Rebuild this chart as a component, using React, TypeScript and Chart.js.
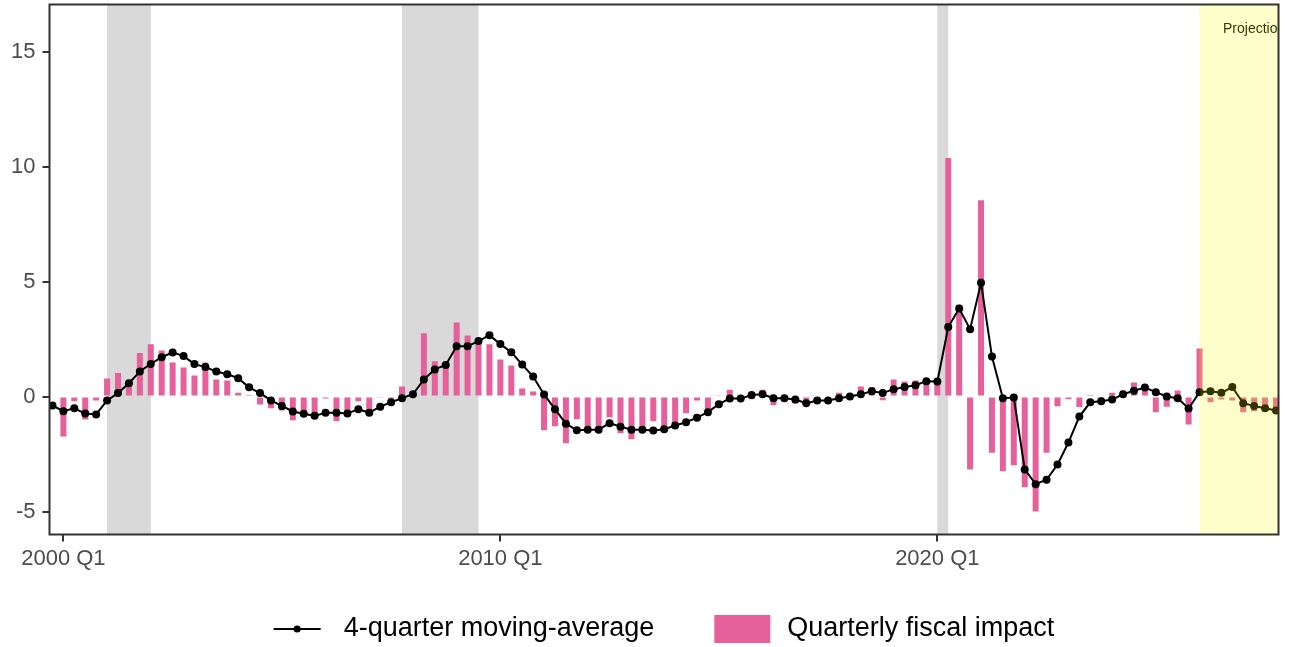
import React, { useEffect, useRef } from 'react';
import { Chart, registerables } from 'chart.js';

Chart.register(...registerables);

// ---------- DATA ----------
const firstYear = 1999;
const firstQuarterNum = 4;

// Quarterly fiscal impact (bars), 1999 Q4 .. 2027 Q4
const fiscalImpact: number[] = [
  0.04, -1.74, -0.20, -1.00, -0.17, 0.78, 1.02, 0.68, 1.89, 2.27,
  2.00, 1.48, 1.26, 0.92, 1.48, 0.74, 0.70, 0.17, 0.02, -0.35,
  -0.51, -0.61, -1.03, -0.80, -0.83, -0.09, -1.07, -0.75, -0.20, -0.61,
  -0.05, -0.10, 0.44, 0.11, 2.75, 1.53, 1.39, 3.22, 2.66, 2.37,
  2.27, 1.61, 1.35, 0.35, 0.22, -1.47, -1.29, -2.03, -0.99, -1.41,
  -1.42, -0.90, -1.60, -1.86, -1.41, -1.07, -1.41, -1.30, -0.73, -0.17,
  -0.61, 0.03, 0.30, 0.05, -0.12, 0.30, -0.38, 0.00, -0.30, -0.34,
  0.00, -0.04, 0.17, -0.13, 0.44, 0.42, -0.16, 0.74, 0.65, 0.70,
  0.70, 0.62, 10.37, 3.99, -3.17, 8.54, -2.44, -3.25, -2.99, -3.95,
  -5.00, -2.44, -0.42, -0.12, -0.46, 0.02, -0.10, 0.16, 0.25, 0.61,
  0.50, -0.68, -0.44, 0.26, -1.22, 2.09, -0.25, -0.13, -0.17, -0.68,
  -0.64, -0.51, -0.61,
];

// 4-quarter moving average (line)
const movingAverage: number[] = [
  -0.39, -0.64, -0.51, -0.74, -0.78, -0.17, 0.15, 0.58, 1.09, 1.42,
  1.71, 1.92, 1.76, 1.41, 1.28, 1.09, 0.97, 0.80, 0.40, 0.15,
  -0.17, -0.41, -0.65, -0.75, -0.84, -0.70, -0.70, -0.74, -0.55, -0.70,
  -0.44, -0.25, -0.07, 0.10, 0.74, 1.18, 1.37, 2.19, 2.19, 2.41,
  2.67, 2.28, 1.93, 1.39, 0.87, 0.09, -0.55, -1.18, -1.47, -1.44,
  -1.44, -1.16, -1.31, -1.44, -1.44, -1.48, -1.42, -1.26, -1.12, -0.92,
  -0.68, -0.33, -0.09, -0.09, 0.07, 0.10, -0.07, -0.07, -0.13, -0.29,
  -0.17, -0.17, -0.07, 0.00, 0.10, 0.23, 0.15, 0.32, 0.41, 0.49,
  0.67, 0.65, 3.02, 3.83, 2.93, 4.95, 1.74, -0.07, -0.04, -3.17,
  -3.81, -3.62, -2.96, -2.00, -0.87, -0.25, -0.20, -0.13, 0.10, 0.25,
  0.39, 0.19, 0.00, -0.07, -0.52, 0.19, 0.23, 0.16, 0.41, -0.29,
  -0.41, -0.51, -0.61,
];

const quarterLabels: string[] = fiscalImpact.map((_, i) => {
  const q0 = firstQuarterNum - 1 + i;
  return `${firstYear + Math.floor(q0 / 4)} Q${(q0 % 4) + 1}`;
});

const xTickLabels: string[] = ['2000 Q1', '2010 Q1', '2020 Q1'];
const yTickValues: number[] = [-5, 0, 5, 10, 15];
const recessionStarts: string[] = ['2001 Q1', '2007 Q4', '2020 Q1'];
const recessionEnds: string[] = ['2002 Q1', '2009 Q3', '2020 Q2'];
const projectionStart = '2026 Q1';
const projectionText = 'Projection';
const projectionTextQuarter = '2027 Q2';
const projectionTextValue = 16;
const seriesNames: string[] = ['4-quarter moving-average', 'Quarterly fiscal impact'];

// ---------- STYLE ----------
const FONT = '"Liberation Sans", Arial, Helvetica, sans-serif';
const BAR_COLOR = '#E6609B';
const AXIS_TEXT = '#4D4D4D';
const FRAME = '#333333';

const idx = (q: string) => quarterLabels.indexOf(q);

const decorations = {
  id: 'decorations',
  beforeDatasetsDraw(chart: any) {
    const { ctx, chartArea: a, scales } = chart;
    const x = scales.x;
    ctx.save();
    ctx.beginPath();
    ctx.rect(a.left, a.top, a.right - a.left, a.bottom - a.top);
    ctx.clip();
    ctx.fillStyle = '#D9D9D9';
    recessionStarts.forEach((s, k) => {
      const x0 = x.getPixelForValue(idx(s));
      const x1 = x.getPixelForValue(idx(recessionEnds[k]));
      ctx.fillRect(x0, a.top, x1 - x0, a.bottom - a.top);
    });
    ctx.restore();
  },
  afterDatasetsDraw(chart: any) {
    const { ctx, chartArea: a, scales } = chart;
    const x = scales.x;
    const y = scales.y;
    ctx.save();
    ctx.beginPath();
    ctx.rect(a.left, a.top, a.right - a.left, a.bottom - a.top);
    ctx.clip();
    ctx.font = `14px ${FONT}`;
    ctx.fillStyle = '#000000';
    ctx.textAlign = 'center';
    ctx.textBaseline = 'middle';
    ctx.fillText(
      projectionText,
      x.getPixelForValue(idx(projectionTextQuarter)),
      y.getPixelForValue(projectionTextValue)
    );
    const px = x.getPixelForValue(idx(projectionStart));
    ctx.fillStyle = 'rgba(255,255,0,0.2)';
    ctx.fillRect(px, a.top, a.right - px, a.bottom - a.top);
    ctx.restore();
  },
  afterDraw(chart: any) {
    const { ctx, chartArea: a } = chart;
    ctx.save();
    // panel frame
    ctx.strokeStyle = FRAME;
    ctx.lineWidth = 2;
    ctx.strokeRect(a.left, a.top, a.right - a.left, a.bottom - a.top);

    // legend
    ctx.font = `27px ${FONT}`;
    ctx.textBaseline = 'middle';
    ctx.textAlign = 'left';
    const w1 = ctx.measureText(seriesNames[0]).width;
    const w2 = ctx.measureText(seriesNames[1]).width;
    const lineKey = 47;
    const gap1 = 23;
    const between = 60;
    const rectW = 56;
    const rectH = 28;
    const gap2 = 17;
    const total = lineKey + gap1 + w1 + between + rectW + gap2 + w2;
    const cx = (a.left + a.right) / 2;
    const ly = 629;
    let xx = cx - total / 2;
    ctx.strokeStyle = '#000000';
    ctx.lineWidth = 2;
    ctx.beginPath();
    ctx.moveTo(xx, ly);
    ctx.lineTo(xx + lineKey, ly);
    ctx.stroke();
    ctx.fillStyle = '#000000';
    ctx.beginPath();
    ctx.arc(xx + lineKey / 2, ly, 3.6, 0, Math.PI * 2);
    ctx.fill();
    xx += lineKey + gap1;
    ctx.fillStyle = '#000000';
    ctx.fillText(seriesNames[0], xx, ly);
    xx += w1 + between;
    ctx.fillStyle = BAR_COLOR;
    ctx.fillRect(xx, ly - rectH / 2, rectW, rectH);
    xx += rectW + gap2;
    ctx.fillStyle = '#000000';
    ctx.fillText(seriesNames[1], xx, ly);
    ctx.restore();
  },
};

export default function App() {
  const canvasRef = useRef<HTMLCanvasElement | null>(null);

  useEffect(() => {
    const canvas = canvasRef.current;
    if (!canvas) return;
    Chart.defaults.font.family = FONT;

    const chart = new Chart(canvas, {
      type: 'bar',
      data: {
        datasets: [
          {
            type: 'line',
            label: seriesNames[0],
            data: movingAverage.map((v, i) => ({ x: i, y: v })),
            borderColor: '#000000',
            borderWidth: 2,
            pointRadius: 4,
            pointBackgroundColor: '#000000',
            pointBorderColor: '#000000',
            pointBorderWidth: 0,
            tension: 0,
            order: 1,
            clip: 0,
          } as any,
          {
            type: 'bar',
            label: seriesNames[1],
            data: fiscalImpact.map((v, i) => ({ x: i, y: v })),
            backgroundColor: BAR_COLOR,
            borderWidth: 0,
            barPercentage: 0.55,
            categoryPercentage: 1,
            order: 2,
            clip: 0,
          } as any,
        ],
      },
      options: {
        responsive: false,
        animation: false,
        events: [],
        layout: {
          padding: { left: 0, top: 4.5, right: 1290 - 1278.5, bottom: 647 - 534.5 - 40 },
        },
        plugins: {
          legend: { display: false },
          tooltip: { enabled: false },
          title: { display: false },
        },
        scales: {
          x: {
            type: 'linear',
            min: -0.27,
            max: 112.23,
            offset: false,
            afterFit: (s: any) => {
              s.height = 40;
              s.paddingLeft = 0;
              s.paddingRight = 0;
            },
            afterBuildTicks: (s: any) => {
              s.ticks = xTickLabels.map((l) => ({ value: idx(l) }));
            },
            ticks: {
              autoSkip: false,
              maxRotation: 0,
              padding: 4,
              color: AXIS_TEXT,
              font: { size: 22, family: FONT },
              callback: (v: any) => quarterLabels[Math.round(Number(v))],
            },
            grid: {
              offset: false,
              drawOnChartArea: false,
              drawTicks: true,
              tickLength: 7,
              color: FRAME,
              lineWidth: 2,
            },
            border: { display: false },
          },
          y: {
            type: 'linear',
            min: -6,
            max: 17.05,
            afterFit: (s: any) => {
              s.width = 49.5;
              s.paddingTop = 0;
              s.paddingBottom = 0;
            },
            afterBuildTicks: (s: any) => {
              s.ticks = yTickValues.map((v) => ({ value: v }));
            },
            ticks: {
              padding: 7,
              color: AXIS_TEXT,
              font: { size: 22, family: FONT },
              callback: (v: any) => String(v),
            },
            grid: {
              drawOnChartArea: false,
              drawTicks: true,
              tickLength: 7,
              color: FRAME,
              lineWidth: 2,
            },
            border: { display: false },
          },
        },
      } as any,
      plugins: [decorations],
    });

    return () => {
      chart.destroy();
    };
  }, []);

  return (
    <div
      style={{
        position: 'fixed',
        left: 0,
        top: 0,
        width: 1290,
        height: 647,
        background: '#ffffff',
      }}
    >
      <canvas ref={canvasRef} width={1290} height={647} style={{ display: 'block' }} />
    </div>
  );
}
